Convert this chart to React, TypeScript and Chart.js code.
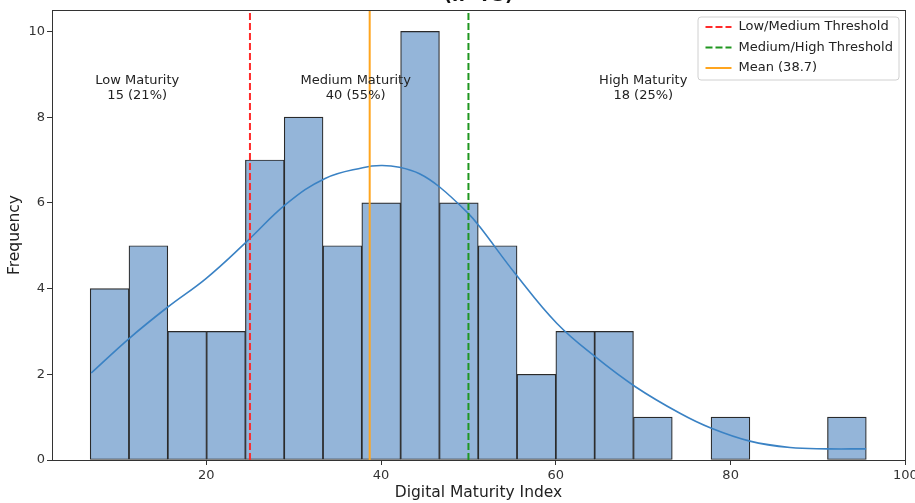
import { useEffect, useRef } from 'react';
import { Chart, registerables } from 'chart.js';

Chart.register(...registerables);

const FONT = "'DejaVu Sans', 'Liberation Sans', sans-serif";

// Histogram bins (20 equal-width bins)
const binStart = 6.72;
const binWidth = 4.44;
const binCounts = [4, 5, 3, 3, 7, 8, 5, 6, 10, 6, 5, 2, 3, 3, 1, 0, 1, 0, 0, 1];

// KDE curve
const kdeX = [6.84, 11.2, 15.6, 20.0, 24.6, 29.2, 33.6, 37.9, 40.0, 42.1, 44.4, 46.7, 50.0, 51.3, 55.5, 60.1, 64.5, 69.1, 74.2, 77.8, 82.2, 86.8, 91.0, 95.5];
const kdeY = [2.03, 2.84, 3.57, 4.24, 5.09, 5.98, 6.57, 6.82, 6.87, 6.83, 6.68, 6.37, 5.75, 5.44, 4.31, 3.19, 2.41, 1.71, 1.09, 0.74, 0.44, 0.29, 0.26, 0.26];

const thresholdLowMedium = 25;
const thresholdMediumHigh = 50;
const meanIndex = 38.7;

const xTickValues = [20, 40, 60, 80, 100];
const yTickValues = [0, 2, 4, 6, 8, 10];

const zoneNames = ['Low Maturity', 'Medium Maturity', 'High Maturity'];
const zoneSummaries = ['15 (21%)', '40 (55%)', '18 (25%)'];

const titleLine = '(n=73)';
const xLabel = 'Digital Maturity Index';
const yLabel = 'Frequency';

export default function App() {
  const ref = useRef<HTMLCanvasElement | null>(null);

  useEffect(() => {
    if (!ref.current) return;
    const yMax = 10.5;
    const zoneXs = [12.1, 37.1, 70.0];
    const zoneYCenter = 8.67;

    const histData = binCounts.map((c, i) => ({ x: binStart + binWidth * (i + 0.5), y: c }));
    const kdeData = kdeX.map((x, i) => ({ x, y: kdeY[i] }));
    const vline = (v: number) => [{ x: v, y: 0 }, { x: v, y: yMax }];

    const framePlugin = {
      id: 'frame',
      afterDatasetsDraw(chart: any) {
        const { ctx, chartArea: a } = chart;
        ctx.save();
        ctx.strokeStyle = '#333';
        ctx.lineWidth = 1;
        ctx.strokeRect(Math.round(a.left) + 0.5, Math.round(a.top) + 0.5, Math.round(a.right - a.left), Math.round(a.bottom - a.top));
        ctx.restore();
      },
    };

    const annotationPlugin = {
      id: 'zones',
      afterDatasetsDraw(chart: any) {
        const { ctx, scales } = chart;
        ctx.save();
        ctx.font = `13px ${FONT}`;
        ctx.fillStyle = '#222';
        ctx.textAlign = 'center';
        ctx.textBaseline = 'middle';
        const yc = scales.y.getPixelForValue(zoneYCenter);
        zoneNames.forEach((name, i) => {
          const x = scales.x.getPixelForValue(zoneXs[i]);
          ctx.fillText(name, x, yc - 7.5);
          ctx.fillText(zoneSummaries[i], x, yc + 7.5);
        });
        ctx.restore();
      },
    };

    const legendPlugin = {
      id: 'mplLegend',
      afterDraw(chart: any) {
        const { ctx, chartArea: a } = chart;
        const items = chart.data.datasets.filter((d: any) => d.inLegend);
        const right = a.right - 6.5;
        const top = a.top + 6.5;
        const w = 201;
        const h = 63;
        const left = right - w;
        ctx.save();
        ctx.beginPath();
        ctx.roundRect(left + 0.5, top + 0.5, w, h, 3);
        ctx.fillStyle = 'rgba(255,255,255,0.85)';
        ctx.fill();
        ctx.strokeStyle = '#d0d0d0';
        ctx.lineWidth = 1;
        ctx.stroke();
        ctx.font = `13px ${FONT}`;
        ctx.textBaseline = 'middle';
        ctx.textAlign = 'left';
        items.forEach((d: any, i: number) => {
          const y = top + 10.5 + i * 20.5;
          ctx.beginPath();
          ctx.strokeStyle = d.borderColor;
          ctx.lineWidth = d.borderWidth;
          ctx.setLineDash(d.borderDash || []);
          ctx.moveTo(left + 8, y);
          ctx.lineTo(left + 34, y);
          ctx.stroke();
          ctx.setLineDash([]);
          ctx.fillStyle = '#222';
          ctx.fillText(d.label, left + 41, y);
        });
        ctx.restore();
      },
    };

    const titlePlugin = {
      id: 'cutTitle',
      afterDraw(chart: any) {
        const { ctx, chartArea: a } = chart;
        ctx.save();
        ctx.font = `bold 18px ${FONT}`;
        ctx.fillStyle = '#111';
        ctx.textAlign = 'center';
        ctx.textBaseline = 'alphabetic';
        ctx.fillText(titleLine, (a.left + a.right) / 2, 1);
        ctx.restore();
      },
    };

    const chart = new Chart(ref.current, {
      type: 'bar',
      data: {
        datasets: [
          {
            type: 'bar',
            label: 'Count',
            data: histData as any,
            backgroundColor: '#94b5d9',
            borderColor: '#2a2a2a',
            borderWidth: 1.2,
            borderSkipped: false,
            barPercentage: 1,
            categoryPercentage: 1,
            order: 4,
          } as any,
          {
            type: 'line',
            label: 'KDE',
            data: kdeData,
            borderColor: '#3a82c4',
            borderWidth: 1.6,
            pointRadius: 0,
            tension: 0.4,
            fill: false,
            order: 3,
          } as any,
          {
            type: 'line',
            label: 'Low/Medium Threshold',
            inLegend: true,
            data: vline(thresholdLowMedium),
            borderColor: '#ff2a2a',
            borderWidth: 2,
            borderDash: [7, 3],
            pointRadius: 0,
            order: 2,
          } as any,
          {
            type: 'line',
            label: 'Medium/High Threshold',
            inLegend: true,
            data: vline(thresholdMediumHigh),
            borderColor: '#1f961f',
            borderWidth: 2,
            borderDash: [7, 3],
            pointRadius: 0,
            order: 2,
          } as any,
          {
            type: 'line',
            label: `Mean (${meanIndex.toFixed(1)})`,
            inLegend: true,
            data: vline(meanIndex),
            borderColor: '#ffa51f',
            borderWidth: 2,
            pointRadius: 0,
            order: 1,
          } as any,
        ],
      },
      options: {
        responsive: false,
        animation: false,
        events: [],
        layout: { padding: { top: 10, right: 10, left: 0, bottom: 0 } },
        plugins: {
          legend: { display: false },
          tooltip: { enabled: false },
          title: { display: false },
        },
        scales: {
          x: {
            type: 'linear',
            min: 2.35,
            max: 99.95,
            offset: false,
            afterBuildTicks: (s: any) => { s.ticks = xTickValues.map((v) => ({ value: v })); },
            afterFit: (s: any) => { s.height = 43; s.paddingLeft = 0; s.paddingRight = 0; },
            grid: { display: true, offset: false, drawOnChartArea: false, drawTicks: true, tickLength: 5, color: '#333' },
            border: { display: false },
            ticks: {
              autoSkip: false,
              maxRotation: 0,
              padding: 3,
              color: '#333',
              font: { family: FONT, size: 13 },
              callback: (v: any) => String(v),
            },
            title: {
              display: true,
              text: xLabel,
              color: '#222',
              font: { family: FONT, size: 15.5 },
              padding: { top: 0, bottom: 1 },
            },
          },
          y: {
            type: 'linear',
            min: 0,
            max: yMax,
            afterBuildTicks: (s: any) => { s.ticks = yTickValues.map((v) => ({ value: v })); },
            afterFit: (s: any) => { s.width = 52; s.paddingTop = 0; s.paddingBottom = 0; },
            grid: { display: true, drawOnChartArea: false, drawTicks: true, tickLength: 5, color: '#333' },
            border: { display: false },
            ticks: {
              autoSkip: false,
              padding: 2,
              color: '#333',
              font: { family: FONT, size: 13 },
              callback: (v: any) => String(v),
            },
            title: {
              display: true,
              text: yLabel,
              color: '#222',
              font: { family: FONT, size: 15.5 },
              padding: { top: 6, bottom: 0 },
            },
          },
        },
      },
      plugins: [framePlugin, annotationPlugin, legendPlugin, titlePlugin],
    } as any);

    return () => chart.destroy();
  }, []);

  return (
    <div style={{ position: 'fixed', left: 0, top: 0, width: 915, height: 503, background: '#fff' }}>
      <canvas ref={ref} width={915} height={503} style={{ display: 'block', width: 915, height: 503 }} />
    </div>
  );
}
